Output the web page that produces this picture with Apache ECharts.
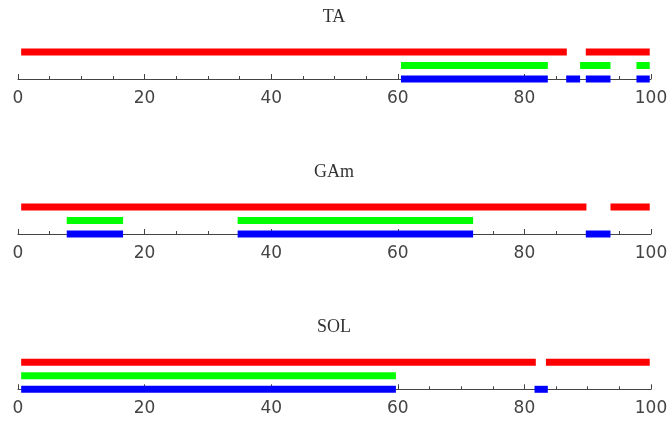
<!DOCTYPE html>
<html>
<head>
<meta charset="utf-8">
<script src="https://cdn.jsdelivr.net/npm/echarts@6/dist/echarts.min.js"></script>
<style>
  html, body { margin: 0; padding: 0; background: #fff; }
  #chart { width: 668px; height: 421px; }
</style>
</head>
<body>
<div id="chart"></div>
<script>
// Panel names, top to bottom
const panelNames = ['TA', 'GAm', 'SOL'];

// Intervals [start, end] along the 0–100 scale for each track
const taRed   = [[0.5, 86.7], [89.7, 99.8]];
const taGreen = [[60.5, 83.7], [88.8, 93.6], [97.7, 99.8]];
const taBlue  = [[60.5, 83.7], [86.6, 88.8], [89.7, 93.6], [97.7, 99.8]];

const gamRed   = [[0.5, 89.8], [93.6, 99.8]];
const gamGreen = [[7.7, 16.6], [34.7, 71.9]];
const gamBlue  = [[7.7, 16.6], [34.7, 71.9], [89.7, 93.6]];

const solRed   = [[0.5, 81.8], [83.4, 99.8]];
const solGreen = [[0.5, 59.7]];
const solBlue  = [[0.5, 59.7], [81.6, 83.7]];

// Axis tick labels
const tickValues = [0, 20, 40, 60, 80, 100];

const tracks = [
  [taRed, taGreen, taBlue],
  [gamRed, gamGreen, gamBlue],
  [solRed, solGreen, solBlue]
];
const trackColors = ['#ff0000', '#00ff00', '#0000ff'];
// red on the top row, blue sitting on the axis
const trackRows = [2, 1, 0];

const axisY = [79, 234, 389.3];
const gridH = 54;

const chart = echarts.init(document.getElementById('chart'), null, { renderer: 'canvas' });

const grids = [], xAxes = [], yAxes = [], titles = [], series = [];

panelNames.forEach((name, p) => {
  grids.push({ left: 18, right: 17, top: axisY[p] - gridH, height: gridH, outerBoundsMode: 'none', containLabel: false });
  xAxes.push({
    gridIndex: p, type: 'value', min: 0, max: 100, interval: 20,
    axisLine: { show: true, lineStyle: { color: '#444', width: 1 } },
    axisTick: { show: true, inside: true, length: 5, lineStyle: { color: '#444' } },
    minorTick: { show: true, splitNumber: 4, length: 3, lineStyle: { color: '#444' } },
    splitLine: { show: false },
    axisLabel: {
      margin: 11, color: '#444', fontSize: 17, fontFamily: 'DejaVu Sans',
      formatter: v => tickValues.includes(v) ? String(v) : ''
    }
  });
  yAxes.push({ gridIndex: p, type: 'value', min: 0, max: 4, show: false });
  titles.push({
    text: name, left: 'center', top: axisY[p] - 76,
    textStyle: { fontFamily: 'Liberation Serif', fontWeight: 'normal', fontSize: 18, color: '#333' }
  });
  tracks[p].forEach((intervals, t) => {
    series.push({
      type: 'custom',
      xAxisIndex: p, yAxisIndex: p,
      encode: { x: [0, 1], y: 2 },
      data: intervals.map(iv => [iv[0], iv[1], trackRows[t]]),
      itemStyle: { color: trackColors[t] },
      z: 5,
      renderItem: (params, api) => {
        const a = api.coord([api.value(0), api.value(2)]);
        const b = api.coord([api.value(1), api.value(2)]);
        const h = 7;
        return {
          type: 'rect',
          shape: { x: a[0], y: a[1] - h / 2, width: b[0] - a[0], height: h },
          style: { fill: trackColors[t] }
        };
      }
    });
  });
});

chart.setOption({
  animation: false,
  backgroundColor: '#ffffff',
  title: titles,
  grid: grids,
  xAxis: xAxes,
  yAxis: yAxes,
  series: series
});
</script>
</body>
</html>
